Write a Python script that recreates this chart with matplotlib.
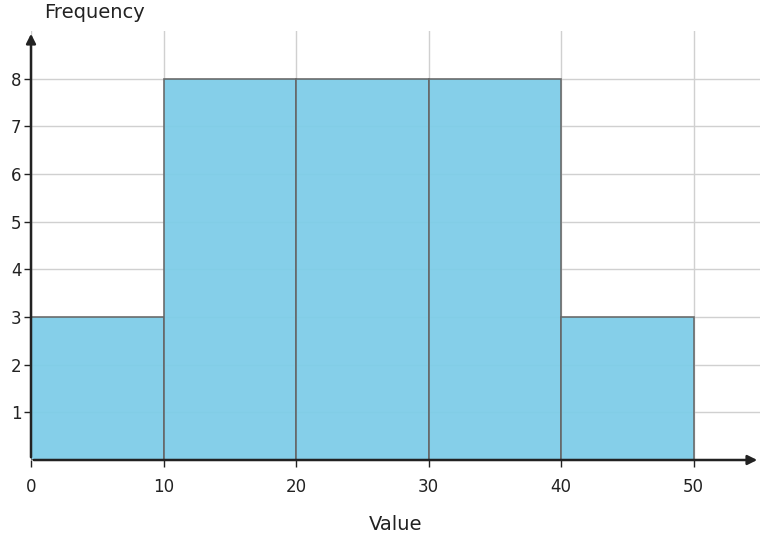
import matplotlib
matplotlib.use("Agg")
import matplotlib.pyplot as plt

bin_edges = [0, 10, 20, 30, 40, 50]
counts = [3, 8, 8, 8, 3]
x_ticks = [0, 10, 20, 30, 40, 50]
y_ticks = [1, 2, 3, 4, 5, 6, 7, 8]

fig = plt.figure(figsize=(7.64, 5.41), dpi=100)
ax = fig.add_axes([31/764, 81/541, 729/764, 429/541])
ax.set_xlim(0, 55)
ax.set_ylim(0, 9)
for x in x_ticks:
    ax.axvline(x, color="#d0d0d0", lw=1, zorder=0)
for y in y_ticks:
    ax.axhline(y, color="#d0d0d0", lw=1, zorder=0)
ax.bar(bin_edges[:-1], counts, width=10, align="edge", color="#7ecde8", alpha=0.95,
       edgecolor="#666666", linewidth=1.2, zorder=2)
for s in ax.spines.values():
    s.set_visible(False)
ax.annotate("", xy=(55, 0), xytext=(0, 0), xycoords="data",
            arrowprops=dict(arrowstyle="-|>", color="#222222", lw=1.8, mutation_scale=14), zorder=5,
            annotation_clip=False)
ax.annotate("", xy=(0, 9), xytext=(0, 0), xycoords="data",
            arrowprops=dict(arrowstyle="-|>", color="#222222", lw=1.8, mutation_scale=14), zorder=5,
            annotation_clip=False)
ax.set_xticks(x_ticks)
ax.set_yticks(y_ticks)
ax.tick_params(axis="both", labelsize=12, colors="#222222", length=5, width=1)
ax.tick_params(axis="x", pad=8)
ax.tick_params(axis="y", pad=2)
fig.text(396/764, 1 - 524/541, "Value", ha="center", va="center", fontsize=14, color="#222222")
fig.text(44/764, 1 - 12/541, "Frequency", ha="left", va="center", fontsize=14, color="#222222")
fig.savefig("out.png", dpi=100)
